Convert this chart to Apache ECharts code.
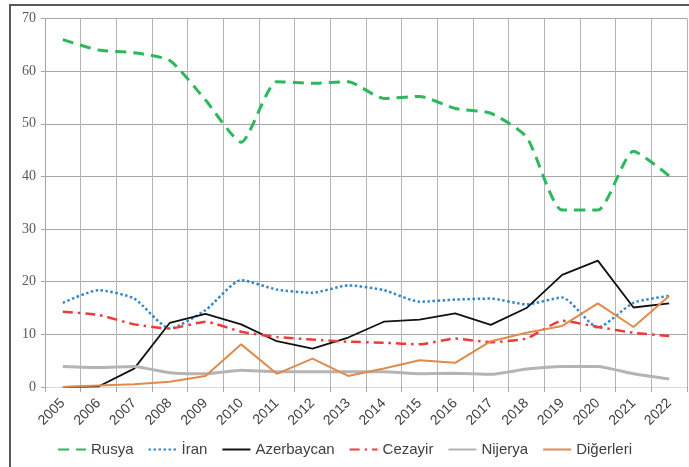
<!DOCTYPE html>
<html>
<head>
<meta charset="utf-8">
<script src="https://cdn.jsdelivr.net/npm/echarts@6/dist/echarts.min.js"></script>
<style>
  html, body { margin: 0; padding: 0; background: #fff; }
  #chart { width: 689px; height: 467px; }
</style>
</head>
<body>
<div id="chart"></div>
<script>
// years on the x axis
const years = ['2005', '2006', '2007', '2008', '2009', '2010', '2011', '2012', '2013',
  '2014', '2015', '2016', '2017', '2018', '2019', '2020', '2021', '2022'];

// shares (%)
const rusya      = [66, 64, 63.5, 62, 54.5, 46.5, 58, 57.7, 58, 54.8, 55.2, 52.9, 52, 47.5, 33.6, 33.6, 44.8, 40.1];
const iran       = [16, 18.4, 16.8, 11.1, 14.6, 20.3, 18.5, 17.9, 19.3, 18.4, 16.2, 16.6, 16.8, 15.7, 17, 11.3, 16, 17.3];
const azerbaycan = [0, 0.1, 3.5, 12.2, 13.9, 11.9, 8.7, 7.3, 9.4, 12.4, 12.8, 14, 11.8, 15, 21.3, 24, 15.1, 15.9];
const cezayir    = [14.3, 13.7, 11.9, 11.1, 12.4, 10.5, 9.5, 9, 8.6, 8.4, 8.1, 9.2, 8.5, 9.2, 12.6, 11.4, 10.3, 9.7];
const nijerya    = [3.9, 3.7, 3.9, 2.7, 2.5, 3.2, 2.9, 2.9, 2.9, 2.9, 2.5, 2.6, 2.4, 3.4, 3.9, 3.9, 2.5, 1.5];
const digerleri  = [0, 0.3, 0.5, 1, 2.1, 8.1, 2.5, 5.4, 2.1, 3.5, 5.1, 4.6, 8.7, 10.3, 11.6, 15.9, 11.4, 17.3];

const chart = echarts.init(document.getElementById('chart'));

const line = (name, data, color, width, type, smooth) => ({
  name: name,
  type: 'line',
  data: data,
  symbol: 'none',
  smooth: smooth,
  lineStyle: {color: color, width: width, type: type, cap: 'butt'},
  itemStyle: {color: color},
});

const option = {
  animation: false,
  graphic: [{
    type: 'rect',
    z: -10,
    shape: {x: 10, y: 5, width: 720, height: 520},
    style: {fill: 'none', stroke: '#595959', lineWidth: 2},
  }],
  grid: {left: 45, right: 2, top: 18.5, bottom: 80},
  legend: {
    bottom: 5,
    left: 'center',
    itemWidth: 28,
    itemHeight: 10,
    itemGap: 14,
    itemStyle: {opacity: 0},
    textStyle: {fontFamily: 'Liberation Sans', fontSize: 15, color: '#404040'},
  },
  xAxis: {
    type: 'category',
    data: years,
    boundaryGap: true,
    axisLine: {lineStyle: {color: '#d9d9d9', width: 1}},
    axisTick: {show: true, length: 5, lineStyle: {color: '#a6a6a6'}},
    splitLine: {show: true, lineStyle: {color: '#b5b5b5', width: 1}},
    axisLabel: {
      interval: 0,
      rotate: 45,
      margin: 14,
      fontFamily: 'Liberation Sans',
      fontSize: 14,
      color: '#404040',
    },
  },
  yAxis: {
    type: 'value',
    min: 0,
    max: 70,
    interval: 10,
    axisLine: {show: true, lineStyle: {color: '#a6a6a6'}},
    axisTick: {show: true, length: 4, lineStyle: {color: '#a6a6a6'}},
    splitLine: {lineStyle: {color: '#a6a6a6', width: 1}},
    axisLabel: {
      margin: 9,
      fontFamily: 'Liberation Serif',
      fontSize: 14,
      color: '#595959',
    },
  },
  series: [
    line('Rusya', rusya, '#2db85c', 3, [11, 7], 0.2),
    line('İran', iran, '#3486cc', 2.5, [2.5, 2.5], 0.2),
    line('Azerbaycan', azerbaycan, '#111111', 1.8, 'solid', false),
    line('Cezayir', cezayir, '#f03a3a', 2.5, [10, 5, 2.5, 5], 0.15),
    line('Nijerya', nijerya, '#b4b4b4', 3, 'solid', 0.15),
    line('Diğerleri', digerleri, '#e08a4c', 2, 'solid', false),
  ],
};

chart.setOption(option);
</script>
</body>
</html>
